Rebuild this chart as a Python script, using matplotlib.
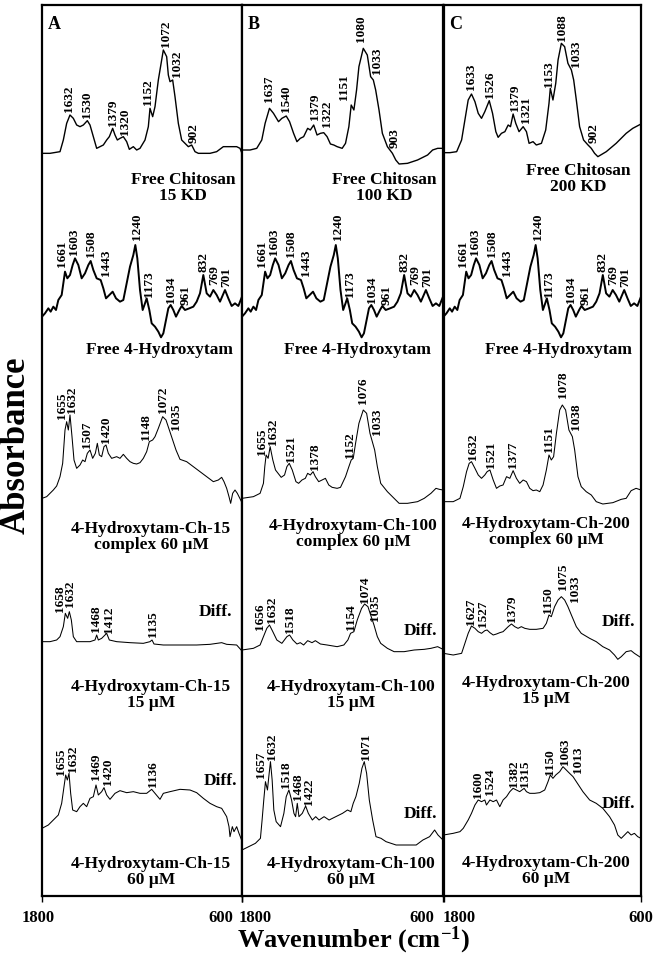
import matplotlib
matplotlib.use('Agg')
import matplotlib.pyplot as plt
from matplotlib.transforms import ScaledTranslation

plt.rcParams['font.family'] = ['Liberation Serif', 'DejaVu Serif']
plt.rcParams['font.weight'] = 'bold'
plt.rcParams['mathtext.fontset'] = 'custom'
plt.rcParams['mathtext.rm'] = 'Liberation Serif:bold'
plt.rcParams['mathtext.default'] = 'rm'

# Spectra as (wavenumber cm-1, stacked absorbance a.u.).
# Panel A - chitosan 15 KD
A1 = [(1800, 2228), (1752, 2228), (1692, 2233), (1672, 2268), (1652, 2318), (1632, 2343),
      (1612, 2333), (1592, 2313), (1572, 2308), (1552, 2313), (1528, 2326), (1512, 2313),
      (1492, 2278), (1472, 2243), (1452, 2248), (1432, 2253), (1412, 2268), (1396, 2278),
      (1376, 2303), (1362, 2283), (1348, 2268), (1332, 2273), (1312, 2278), (1292, 2263),
      (1276, 2240), (1252, 2248), (1232, 2238), (1212, 2243), (1182, 2268), (1162, 2308),
      (1152, 2363), (1136, 2338), (1122, 2368), (1102, 2448), (1072, 2538), (1052, 2518),
      (1042, 2463), (1032, 2443), (1016, 2448), (1002, 2398), (982, 2318), (962, 2268),
      (942, 2258), (922, 2248), (902, 2253), (882, 2233), (862, 2228), (792, 2228),
      (752, 2233), (712, 2248), (672, 2248), (632, 2248), (612, 2243), (600, 2228)]
A1_PEAKS = [1632, 1530, 1379, 1320, 1152, 1072, 1032, 902]
A1_PEAK_X = [1636, 1528, 1376, 1302, 1162, 1056, 992, 888]
A1_PEAK_Y = [2353, 2333, 2310, 2283, 2373, 2546, 2458, 2260]

# Free 4-Hydroxytam (same in all three panels)
HT = [(1800, 1738), (1782, 1748), (1762, 1763), (1748, 1753), (1732, 1768), (1716, 1758),
      (1702, 1788), (1682, 1803), (1662, 1873), (1648, 1853), (1632, 1863), (1616, 1893),
      (1602, 1913), (1582, 1893), (1562, 1853), (1542, 1868), (1522, 1893), (1508, 1905),
      (1492, 1878), (1472, 1853), (1448, 1848), (1432, 1823), (1416, 1793), (1396, 1803),
      (1376, 1813), (1356, 1793), (1332, 1783), (1312, 1788), (1292, 1838), (1272, 1888),
      (1252, 1923), (1240, 1953), (1228, 1913), (1212, 1818), (1196, 1758), (1182, 1778),
      (1172, 1793), (1156, 1758), (1142, 1718), (1122, 1708), (1102, 1693), (1086, 1676),
      (1072, 1688), (1056, 1728), (1042, 1763), (1028, 1773), (1012, 1758), (996, 1738),
      (976, 1758), (962, 1770), (942, 1758), (916, 1763), (892, 1768), (872, 1783),
      (852, 1808), (832, 1863), (812, 1808), (792, 1798), (772, 1818), (752, 1803),
      (732, 1783), (702, 1818), (682, 1793), (662, 1770), (642, 1778), (622, 1770), (600, 1798)]
HT_PEAKS = [1661, 1603, 1508, 1443, 1240, 1173, 1034, 961, 832, 769, 701]
HT_PEAK_X = [1682, 1606, 1508, 1416, 1228, 1156, 1024, 938, 832, 768, 694]
HT_PEAK_Y = [1888, 1923, 1918, 1860, 1968, 1798, 1778, 1773, 1873, 1833, 1826]

A3 = [(1800, 1193), (1772, 1198), (1752, 1208), (1732, 1218), (1712, 1230), (1692, 1258),
      (1676, 1298), (1662, 1398), (1652, 1423), (1642, 1398), (1632, 1443), (1620, 1378),
      (1608, 1308), (1592, 1283), (1572, 1293), (1556, 1308), (1542, 1303), (1528, 1328),
      (1512, 1338), (1496, 1313), (1480, 1328), (1468, 1358), (1456, 1323), (1442, 1318),
      (1428, 1348), (1416, 1353), (1402, 1328), (1382, 1313), (1352, 1318), (1332, 1313),
      (1312, 1325), (1292, 1313), (1272, 1303), (1252, 1298), (1232, 1296), (1212, 1300),
      (1192, 1313), (1172, 1333), (1156, 1363), (1136, 1368), (1122, 1378), (1102, 1403),
      (1076, 1438), (1056, 1428), (1036, 1398), (1016, 1368), (996, 1338), (972, 1310),
      (932, 1303), (892, 1288), (852, 1273), (812, 1258), (772, 1243), (742, 1248),
      (722, 1256), (708, 1243), (692, 1223), (678, 1198), (668, 1178), (656, 1208),
      (642, 1218), (628, 1208), (600, 1180)]
A3_PEAKS = [1655, 1632, 1507, 1420, 1148, 1072, 1035]
A3_PEAK_X = [1682, 1620, 1532, 1416, 1176, 1076, 996]
A3_PEAK_Y = [1431, 1449, 1343, 1358, 1368, 1448, 1398]

A4 = [(1800, 763), (1752, 763), (1712, 768), (1692, 778), (1672, 808), (1660, 848),
      (1646, 833), (1636, 853), (1624, 828), (1612, 778), (1592, 763), (1552, 763),
      (1512, 763), (1482, 768), (1472, 783), (1462, 768), (1442, 773), (1422, 783),
      (1412, 788), (1396, 768), (1352, 763), (1272, 760), (1192, 758), (1152, 763),
      (1140, 768), (1128, 756), (1072, 753), (972, 753), (872, 753), (792, 755),
      (722, 760), (692, 755), (632, 753), (600, 735)]
A4_PEAKS = [1658, 1632, 1468, 1412, 1135]
A4_PEAK_X = [1694, 1630, 1478, 1400, 1132]
A4_PEAK_Y = [852, 868, 793, 790, 778]

A5 = [(1800, 203), (1762, 213), (1732, 228), (1702, 243), (1682, 278), (1668, 328),
      (1658, 363), (1648, 348), (1638, 368), (1628, 308), (1616, 258), (1592, 253),
      (1572, 268), (1552, 278), (1532, 268), (1512, 293), (1492, 298), (1476, 333),
      (1462, 303), (1442, 313), (1428, 325), (1412, 303), (1392, 290), (1362, 308),
      (1332, 316), (1292, 310), (1252, 313), (1212, 308), (1172, 308), (1142, 320),
      (1122, 308), (1092, 290), (1072, 308), (1032, 313), (972, 320), (912, 318),
      (872, 310), (832, 293), (792, 278), (752, 268), (722, 263), (692, 238),
      (678, 208), (672, 178), (658, 208), (648, 193), (632, 208), (618, 188), (600, 165)]
A5_PEAKS = [1655, 1632, 1469, 1420, 1136]
A5_PEAK_X = [1686, 1614, 1474, 1406, 1136]
A5_PEAK_Y = [363, 373, 348, 333, 328]

# Panel B - chitosan 100 KD
B1 = [(1800, 2238), (1752, 2238), (1712, 2243), (1682, 2268), (1662, 2318), (1636, 2363),
      (1612, 2348), (1582, 2323), (1562, 2333), (1536, 2340), (1516, 2323), (1492, 2288),
      (1472, 2263), (1452, 2273), (1432, 2278), (1408, 2303), (1392, 2298), (1372, 2313),
      (1352, 2283), (1332, 2288), (1312, 2290), (1292, 2278), (1272, 2256), (1252, 2253),
      (1232, 2248), (1202, 2243), (1182, 2258), (1162, 2308), (1148, 2373), (1132, 2358),
      (1116, 2418), (1102, 2488), (1076, 2543), (1052, 2523), (1032, 2458), (1016, 2448),
      (1002, 2418), (982, 2358), (962, 2288), (932, 2248), (902, 2228), (882, 2208),
      (862, 2196), (812, 2198), (752, 2208), (692, 2223), (662, 2238), (632, 2243), (600, 2243)]
B1_PEAKS = [1637, 1540, 1379, 1322, 1151, 1080, 1033, 903]
B1_PEAK_X = [1636, 1536, 1362, 1292, 1192, 1088, 992, 888]
B1_PEAK_Y = [2383, 2353, 2328, 2308, 2388, 2563, 2466, 2243]

B3 = [(1800, 1193), (1732, 1198), (1692, 1208), (1672, 1238), (1664, 1288), (1656, 1323),
      (1644, 1313), (1632, 1348), (1616, 1308), (1600, 1278), (1566, 1256), (1546, 1263),
      (1532, 1288), (1518, 1298), (1500, 1278), (1478, 1243), (1462, 1238), (1442, 1248),
      (1422, 1253), (1408, 1268), (1392, 1263), (1376, 1273), (1362, 1258), (1342, 1243),
      (1322, 1248), (1302, 1253), (1282, 1233), (1262, 1226), (1232, 1223), (1212, 1226),
      (1182, 1258), (1162, 1288), (1148, 1308), (1136, 1313), (1122, 1358), (1102, 1418),
      (1076, 1458), (1056, 1448), (1036, 1388), (1022, 1363), (1008, 1338), (992, 1288),
      (972, 1238), (932, 1213), (892, 1193), (862, 1178), (812, 1178), (752, 1183),
      (712, 1193), (672, 1208), (642, 1223), (622, 1220), (600, 1218)]
B3_PEAKS = [1655, 1632, 1521, 1378, 1152, 1076, 1033]
B3_PEAK_X = [1678, 1612, 1508, 1362, 1156, 1080, 992]
B3_PEAK_Y = [1323, 1353, 1303, 1278, 1313, 1476, 1383]

B4 = [(1800, 738), (1732, 743), (1692, 753), (1672, 778), (1652, 803), (1636, 813),
      (1616, 793), (1592, 768), (1562, 758), (1532, 778), (1516, 783), (1496, 768),
      (1472, 756), (1452, 760), (1432, 753), (1408, 766), (1382, 760), (1362, 766),
      (1332, 756), (1292, 753), (1232, 748), (1192, 753), (1168, 768), (1152, 788),
      (1132, 793), (1112, 828), (1086, 863), (1068, 876), (1048, 868), (1032, 843),
      (1012, 813), (992, 778), (972, 758), (932, 743), (892, 733), (832, 733),
      (772, 738), (712, 740), (672, 743), (632, 748), (600, 740)]
B4_PEAKS = [1656, 1632, 1518, 1154, 1074, 1035]
B4_PEAK_X = [1690, 1622, 1516, 1152, 1068, 1004]
B4_PEAK_Y = [798, 818, 788, 798, 879, 826]

B5 = [(1800, 138), (1760, 148), (1720, 158), (1690, 173), (1680, 228), (1670, 288),
      (1660, 343), (1648, 318), (1640, 358), (1630, 403), (1620, 348), (1610, 258),
      (1596, 223), (1570, 208), (1550, 248), (1536, 298), (1520, 318), (1504, 288),
      (1490, 248), (1480, 238), (1470, 278), (1460, 238), (1440, 248), (1420, 270),
      (1404, 248), (1380, 228), (1360, 238), (1340, 228), (1310, 238), (1280, 228),
      (1240, 238), (1200, 248), (1170, 258), (1150, 253), (1136, 278), (1120, 298),
      (1100, 338), (1084, 383), (1070, 403), (1056, 368), (1040, 288), (1020, 228),
      (1000, 178), (970, 173), (940, 163), (880, 153), (820, 153), (760, 153),
      (720, 168), (680, 178), (650, 198), (630, 183), (600, 168)]
B5_PEAKS = [1657, 1632, 1518, 1468, 1422, 1071]
B5_PEAK_X = [1686, 1620, 1536, 1468, 1398, 1060]
B5_PEAK_Y = [353, 408, 323, 288, 273, 408]

# Panel C - chitosan 200 KD
C1 = [(1800, 2230), (1761, 2230), (1720, 2233), (1690, 2268), (1670, 2328), (1650, 2388),
      (1630, 2406), (1609, 2383), (1589, 2348), (1569, 2333), (1549, 2353), (1522, 2386),
      (1502, 2348), (1482, 2293), (1468, 2276), (1448, 2288), (1427, 2293), (1407, 2313),
      (1393, 2308), (1377, 2346), (1361, 2318), (1341, 2293), (1316, 2308), (1296, 2293),
      (1280, 2258), (1256, 2263), (1236, 2253), (1205, 2258), (1179, 2298), (1159, 2378),
      (1151, 2423), (1135, 2388), (1118, 2438), (1104, 2508), (1084, 2558), (1064, 2548),
      (1044, 2498), (1023, 2478), (1009, 2448), (993, 2388), (973, 2308), (949, 2268),
      (922, 2253), (902, 2243), (882, 2228), (862, 2218), (811, 2233), (751, 2258),
      (690, 2288), (650, 2303), (600, 2316)]
C1_PEAKS = [1633, 1526, 1379, 1321, 1153, 1088, 1033, 902]
C1_PEAK_X = [1630, 1518, 1367, 1296, 1159, 1078, 993, 888]
C1_PEAK_Y = [2418, 2393, 2356, 2318, 2428, 2566, 2488, 2258]

C3 = [(1800, 1183), (1741, 1183), (1700, 1193), (1680, 1228), (1660, 1273), (1644, 1298),
      (1630, 1303), (1609, 1283), (1589, 1263), (1569, 1253), (1549, 1263), (1535, 1273),
      (1518, 1278), (1498, 1248), (1478, 1223), (1458, 1230), (1438, 1233), (1417, 1258),
      (1397, 1253), (1377, 1276), (1357, 1253), (1337, 1238), (1316, 1248), (1296, 1243),
      (1276, 1223), (1256, 1216), (1236, 1218), (1215, 1213), (1195, 1233), (1175, 1278),
      (1159, 1323), (1145, 1308), (1131, 1318), (1114, 1388), (1094, 1458), (1078, 1473),
      (1058, 1458), (1038, 1398), (1017, 1378), (1003, 1338), (983, 1258), (963, 1228),
      (933, 1213), (902, 1203), (872, 1183), (832, 1176), (771, 1180), (720, 1190),
      (690, 1193), (660, 1216), (630, 1223), (600, 1218)]
C3_PEAKS = [1632, 1521, 1377, 1151, 1078, 1038]
C3_PEAK_X = [1619, 1514, 1377, 1159, 1076, 993]
C3_PEAK_Y = [1308, 1283, 1283, 1333, 1494, 1398]

C4 = [(1800, 728), (1741, 723), (1690, 728), (1670, 758), (1650, 788), (1630, 810),
      (1609, 803), (1589, 793), (1569, 788), (1549, 796), (1535, 798), (1518, 790),
      (1498, 783), (1478, 786), (1458, 790), (1438, 793), (1407, 808), (1387, 816),
      (1367, 808), (1347, 803), (1327, 808), (1306, 803), (1276, 800), (1236, 800),
      (1195, 803), (1175, 818), (1159, 843), (1145, 838), (1125, 868), (1104, 888),
      (1084, 898), (1064, 888), (1044, 868), (1023, 843), (993, 808), (963, 788),
      (912, 773), (872, 763), (832, 748), (791, 738), (761, 723), (741, 710),
      (720, 718), (690, 733), (660, 736), (640, 728), (600, 715)]
C4_PEAKS = [1627, 1527, 1379, 1150, 1075, 1033]
C4_PEAK_X = [1630, 1559, 1381, 1165, 1076, 1003]
C4_PEAK_Y = [813, 808, 823, 848, 918, 882]

C5 = [(1800, 183), (1741, 188), (1700, 193), (1680, 203), (1650, 228), (1630, 248),
      (1609, 273), (1589, 288), (1569, 283), (1549, 288), (1539, 273), (1518, 288),
      (1498, 283), (1478, 288), (1458, 268), (1438, 288), (1417, 298), (1397, 313),
      (1377, 323), (1357, 318), (1337, 313), (1310, 323), (1296, 313), (1276, 308),
      (1246, 308), (1215, 310), (1185, 318), (1165, 343), (1151, 363), (1135, 353),
      (1118, 363), (1094, 373), (1074, 388), (1054, 378), (1034, 368), (1013, 358),
      (993, 343), (953, 313), (912, 288), (872, 278), (832, 263), (791, 238),
      (761, 213), (741, 183), (720, 173), (700, 183), (680, 193), (660, 183),
      (640, 188), (620, 178), (600, 173)]
C5_PEAKS = [1600, 1524, 1382, 1315, 1150, 1063, 1013]
C5_PEAK_X = [1592, 1518, 1370, 1304, 1155, 1064, 983]
C5_PEAK_Y = [293, 303, 328, 328, 363, 393, 368]

NAMES_A = ['Free Chitosan\n15 KD', 'Free 4-Hydroxytam', '4-Hydroxytam-Ch-15\ncomplex 60 \u00b5M',
           '4-Hydroxytam-Ch-15\n15 \u00b5M', '4-Hydroxytam-Ch-15\n60 \u00b5M']
NAMES_B = ['Free Chitosan\n100 KD', 'Free 4-Hydroxytam', '4-Hydroxytam-Ch-100\ncomplex 60 \u00b5M',
           '4-Hydroxytam-Ch-100\n15 \u00b5M', '4-Hydroxytam-Ch-100\n60 \u00b5M']
NAMES_C = ['Free Chitosan\n200 KD', 'Free 4-Hydroxytam', '4-Hydroxytam-Ch-200\ncomplex 60 \u00b5M',
           '4-Hydroxytam-Ch-200\n15 \u00b5M', '4-Hydroxytam-Ch-200\n60 \u00b5M']

PANELS = [
    ('A', [(A1, A1_PEAKS, A1_PEAK_X, A1_PEAK_Y), (HT, HT_PEAKS, HT_PEAK_X, HT_PEAK_Y),
           (A3, A3_PEAKS, A3_PEAK_X, A3_PEAK_Y), (A4, A4_PEAKS, A4_PEAK_X, A4_PEAK_Y),
           (A5, A5_PEAKS, A5_PEAK_X, A5_PEAK_Y)], NAMES_A),
    ('B', [(B1, B1_PEAKS, B1_PEAK_X, B1_PEAK_Y), (HT, HT_PEAKS, HT_PEAK_X, HT_PEAK_Y),
           (B3, B3_PEAKS, B3_PEAK_X, B3_PEAK_Y), (B4, B4_PEAKS, B4_PEAK_X, B4_PEAK_Y),
           (B5, B5_PEAKS, B5_PEAK_X, B5_PEAK_Y)], NAMES_B),
    ('C', [(C1, C1_PEAKS, C1_PEAK_X, C1_PEAK_Y), (HT, HT_PEAKS, HT_PEAK_X, HT_PEAK_Y),
           (C3, C3_PEAKS, C3_PEAK_X, C3_PEAK_Y), (C4, C4_PEAKS, C4_PEAK_X, C4_PEAK_Y),
           (C5, C5_PEAKS, C5_PEAK_X, C5_PEAK_Y)], NAMES_C),
]

# layout (pixels of the 656x959 canvas) and label anchors in data units
BOXES = [(42, 200), (242, 201), (443.5, 197.5)]
NAME_POS = [[(954, 2124), (1092, 1638), (1146, 1077), (1146, 602), (1146, 72)],
            [(951, 2124), (1110, 1638), (1137, 1086), (1146, 602), (1146, 72)],
            [(982, 2151), (1100, 1638), (1175, 1092), (1175, 614), (1175, 75)]]
DIFF_POS = [[(762, 852), (732, 345)],
            [(732, 795), (732, 246)],
            [(739, 822), (737, 276)]]
TICK_SHIFT = [(-4, -21), (13, -21), (16, 0)]
LINE_WIDTHS = [1.0, 1.4, 0.75, 0.75, 0.75]

W, H = 656, 959
fig = plt.figure(figsize=(W / 100, H / 100), dpi=100)

for i, (letter, spectra, names) in enumerate(PANELS):
    left, width = BOXES[i]
    ax = fig.add_axes([left / W, 63 / H, width / W, 891 / H])
    ax.set_xlim(1800, 600)
    ax.set_ylim(0, 2673)
    ax.set_yticks([])
    ax.set_xticks([1800, 600])
    ax.set_xticklabels(['1800', '600'], fontsize=12, fontweight='bold')
    ax.tick_params(axis='x', direction='out', length=4, width=1, pad=6)
    for lab, dx in zip(ax.get_xticklabels(), TICK_SHIFT[i]):
        lab.set_transform(lab.get_transform() + ScaledTranslation(dx / 100, 0, fig.dpi_scale_trans))
    for sp in ax.spines.values():
        sp.set_linewidth(1.6)

    for j, (spec, peaks, px, py) in enumerate(spectra):
        wn, ab = zip(*spec)
        ax.plot(wn, ab, color='black', lw=LINE_WIDTHS[j])
        for p, x, y in zip(peaks, px, py):
            ax.text(x, y, str(p), rotation=90, ha='center', va='bottom', fontsize=9.5)
        nx, ny = NAME_POS[i][j]
        ax.text(nx, ny, names[j], ha='center', va='center', fontsize=12.5,
                linespacing=1.0, multialignment='center')
    for dx, dy in DIFF_POS[i]:
        ax.text(dx, dy, 'Diff.', ha='center', va='center', fontsize=12.5)
    ax.text(0.03, 0.988, letter, transform=ax.transAxes, ha='left', va='top', fontsize=13)

fig.text(16 / W, 1 - 445 / H, 'Absorbance', rotation=90, ha='center', va='center', fontsize=25)
fig.text(354 / W, 1 - 940 / H, 'Wavenumber (cm$^{-1}$)', ha='center', va='center', fontsize=19)

fig.savefig('out.png', dpi=100)
